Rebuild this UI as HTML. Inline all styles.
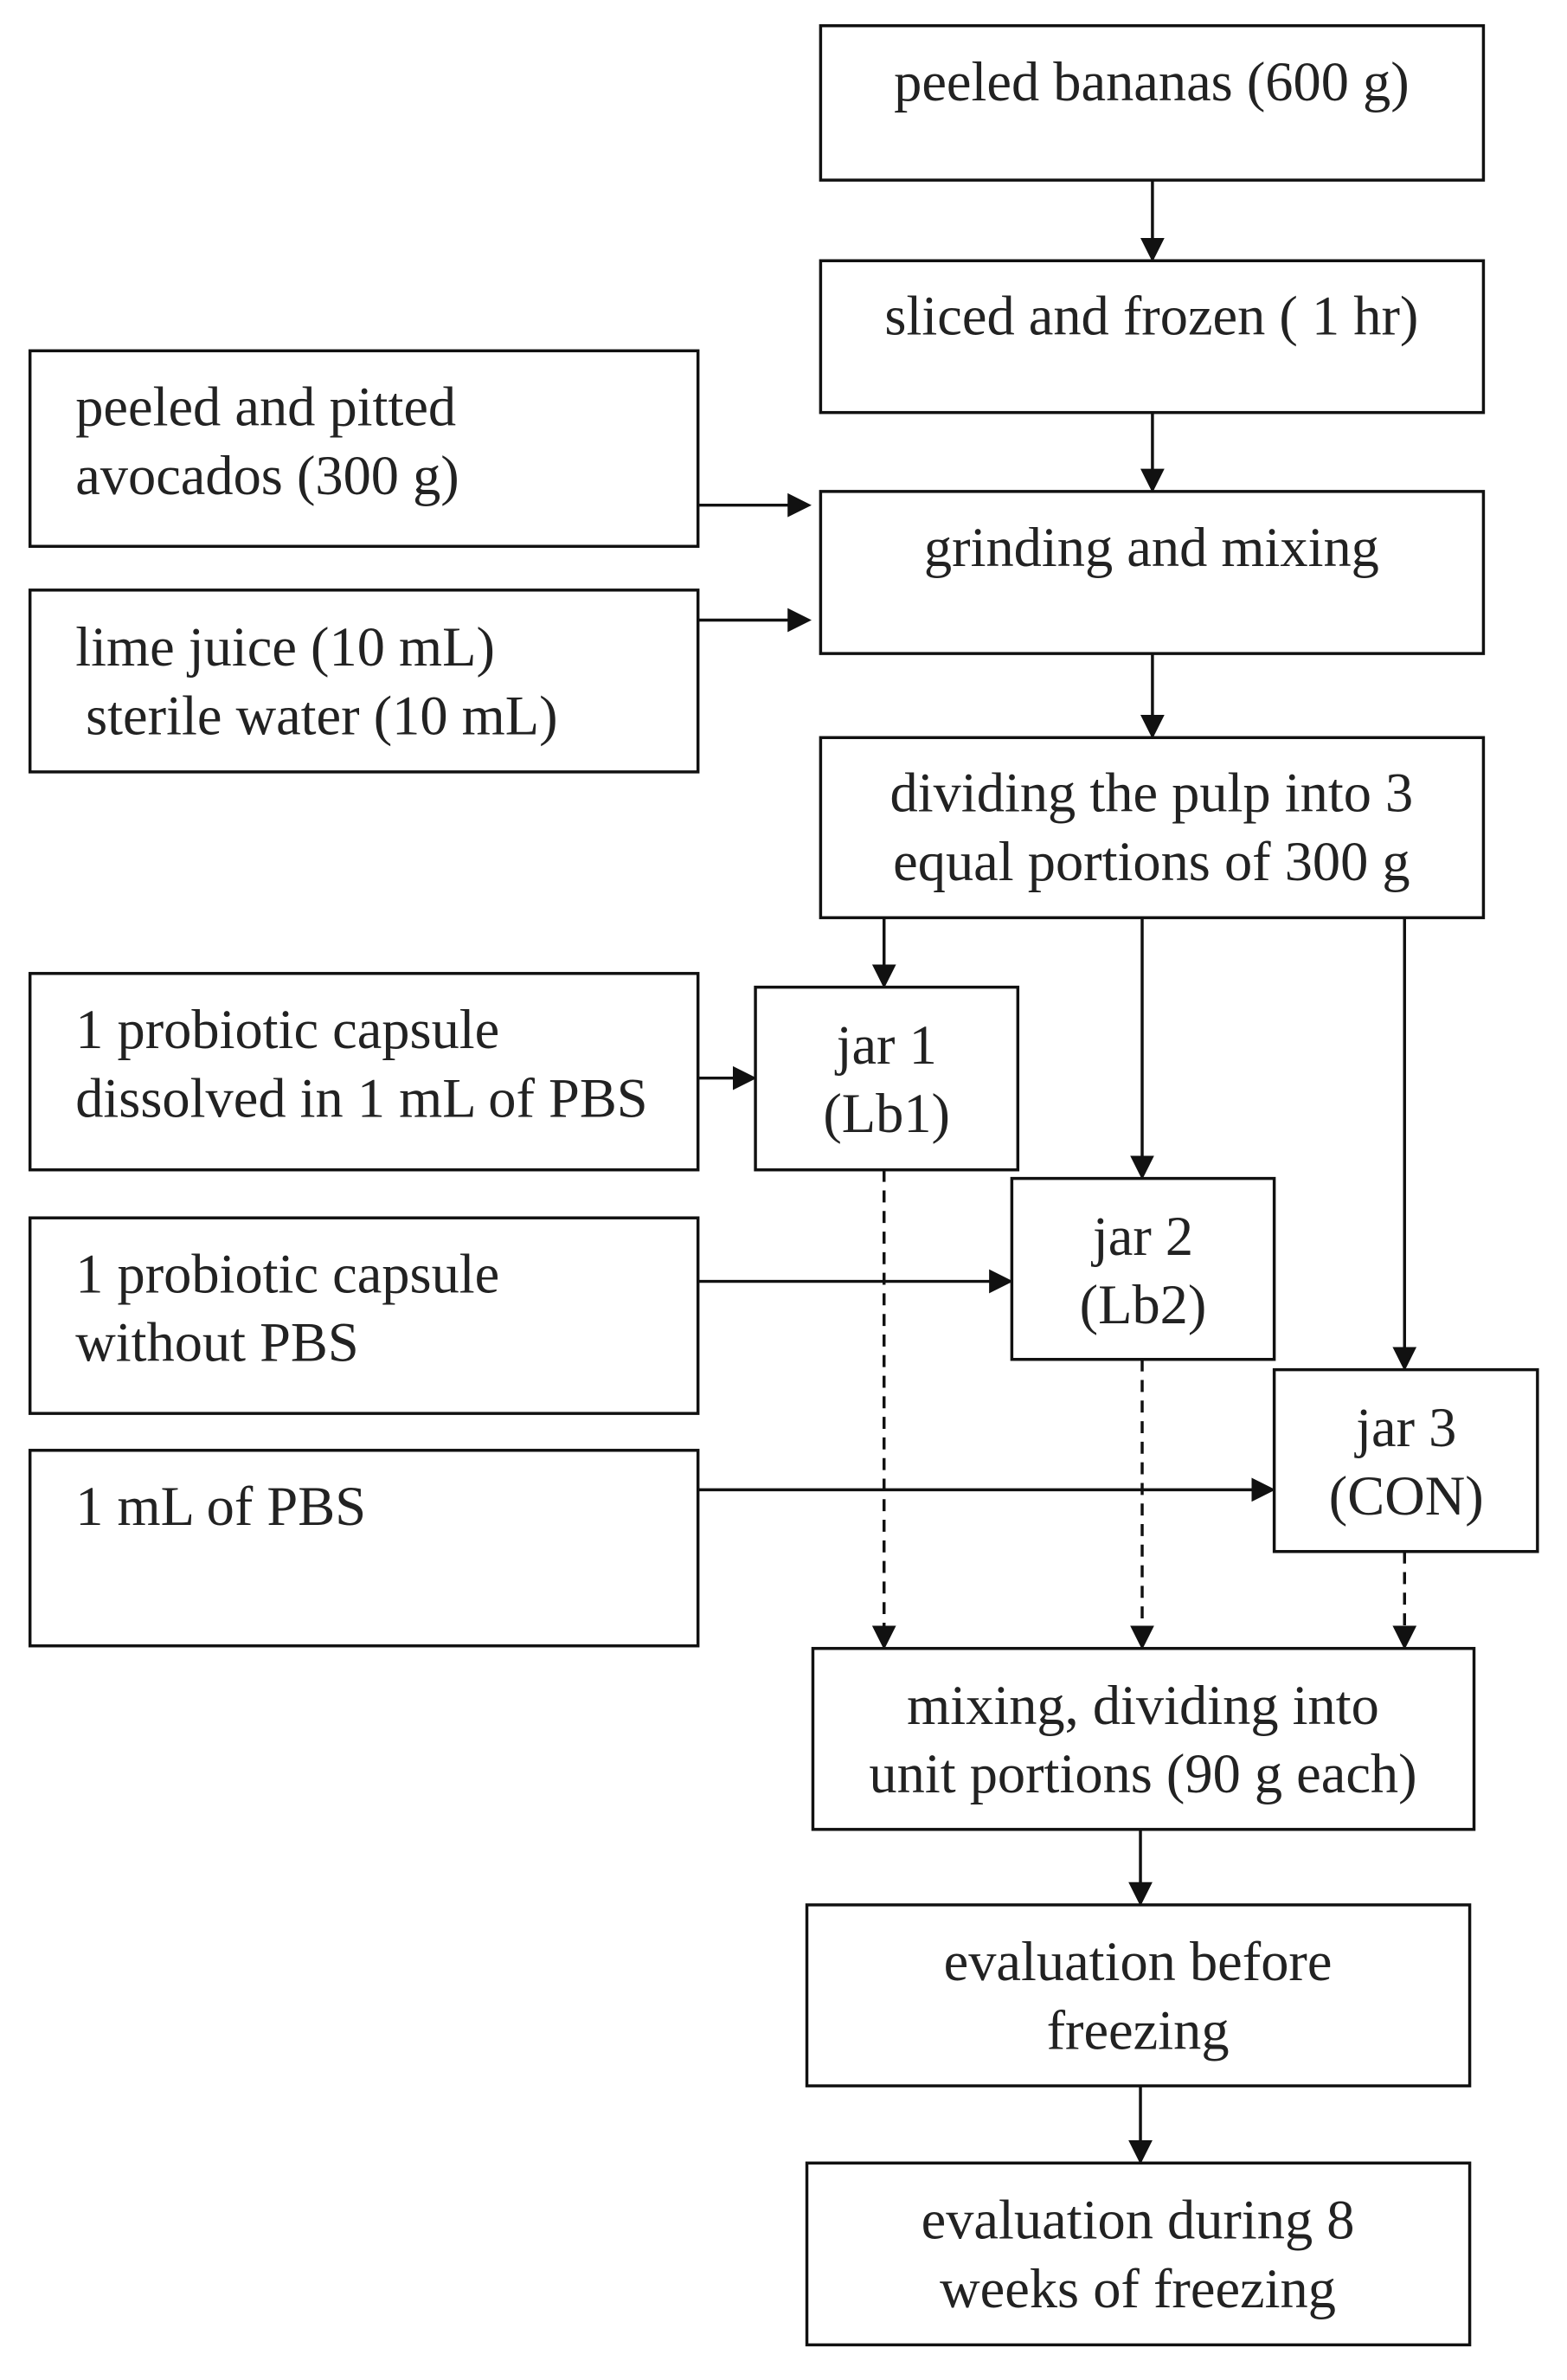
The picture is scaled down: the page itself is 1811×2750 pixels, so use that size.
<!DOCTYPE html>
<html><head><style>html,body{margin:0;padding:0;background:#fff}</style></head><body>
<svg width="1811" height="2745" viewBox="0 0 1811 2745" xmlns="http://www.w3.org/2000/svg" font-family="Liberation Serif, serif" font-size="65" fill="#222">
<defs><marker id="a" markerWidth="8" markerHeight="8" refX="7" refY="4" orient="auto" markerUnits="strokeWidth"><path d="M0,0 L8,4 L0,8 z" fill="#111"/></marker></defs>
<g transform="scale(0.991)">
<g fill="none" stroke="#111" stroke-width="3.5">
<rect x="957" y="30" width="773" height="180"/>
<rect x="957" y="304" width="773" height="177"/>
<rect x="35" y="409" width="779" height="228"/>
<rect x="957" y="573" width="773" height="189"/>
<rect x="35" y="688" width="779" height="212"/>
<rect x="957" y="860" width="773" height="210"/>
<rect x="35" y="1135" width="779" height="229"/>
<rect x="881" y="1151" width="306" height="213"/>
<rect x="1180" y="1374" width="306" height="211"/>
<rect x="35" y="1420" width="779" height="228"/>
<rect x="1486" y="1597" width="307" height="212"/>
<rect x="35" y="1691" width="779" height="228"/>
<rect x="948" y="1922" width="771" height="211"/>
<rect x="941" y="2221" width="773" height="211"/>
<rect x="941" y="2522" width="773" height="212"/>
</g>
<g stroke="#111" stroke-width="3.5" fill="none" marker-end="url(#a)">
<line x1="1344" y1="210" x2="1344" y2="302"/>
<line x1="1344" y1="481" x2="1344" y2="571"/>
<line x1="1344" y1="762" x2="1344" y2="858"/>
<line x1="814" y1="589" x2="943" y2="589"/>
<line x1="814" y1="723" x2="943" y2="723"/>
<line x1="1031" y1="1070" x2="1031" y2="1149"/>
<line x1="1332" y1="1070" x2="1332" y2="1372"/>
<line x1="1638" y1="1070" x2="1638" y2="1595"/>
<line x1="814" y1="1257" x2="879" y2="1257"/>
<line x1="814" y1="1494" x2="1178" y2="1494"/>
<line x1="814" y1="1737" x2="1484" y2="1737"/>
<line x1="1031" y1="1364" x2="1031" y2="1920" stroke-dasharray="14,10"/>
<line x1="1332" y1="1585" x2="1332" y2="1920" stroke-dasharray="14,10"/>
<line x1="1638" y1="1809" x2="1638" y2="1920" stroke-dasharray="14,10"/>
<line x1="1330" y1="2133" x2="1330" y2="2219"/>
<line x1="1330" y1="2432" x2="1330" y2="2520"/>
</g>
<g text-anchor="middle">
<text x="1343" y="117">peeled bananas (600 g)</text>
<text x="1343" y="390">sliced and frozen ( 1 hr)</text>
<text x="1343" y="660">grinding and mixing</text>
<text x="1343" y="946">dividing the pulp into 3</text>
<text x="1343" y="1026">equal portions of 300 g</text>
<text x="1034" y="1240">jar 1</text>
<text x="1034" y="1320">(Lb1)</text>
<text x="1333" y="1463">jar 2</text>
<text x="1333" y="1543">(Lb2)</text>
<text x="1640" y="1686">jar 3</text>
<text x="1640" y="1766">(CON)</text>
<text x="1333" y="2010">mixing, dividing into</text>
<text x="1333" y="2090">unit portions (90 g each)</text>
<text x="1327" y="2309">evaluation before</text>
<text x="1327" y="2389">freezing</text>
<text x="1327" y="2610">evaluation during 8</text>
<text x="1327" y="2690">weeks of freezing</text>
</g>
<g>
<text x="88" y="496">peeled and pitted</text>
<text x="88" y="576">avocados (300 g)</text>
<text x="88" y="776">lime juice (10 mL)</text>
<text x="100" y="856">sterile water (10 mL)</text>
<text x="88" y="1222">1 probiotic capsule</text>
<text x="88" y="1302">dissolved in 1 mL of PBS</text>
<text x="88" y="1507">1 probiotic capsule</text>
<text x="88" y="1587">without PBS</text>
<text x="88" y="1778">1 mL of PBS</text>
</g>
</g>
</svg>
</body></html>
